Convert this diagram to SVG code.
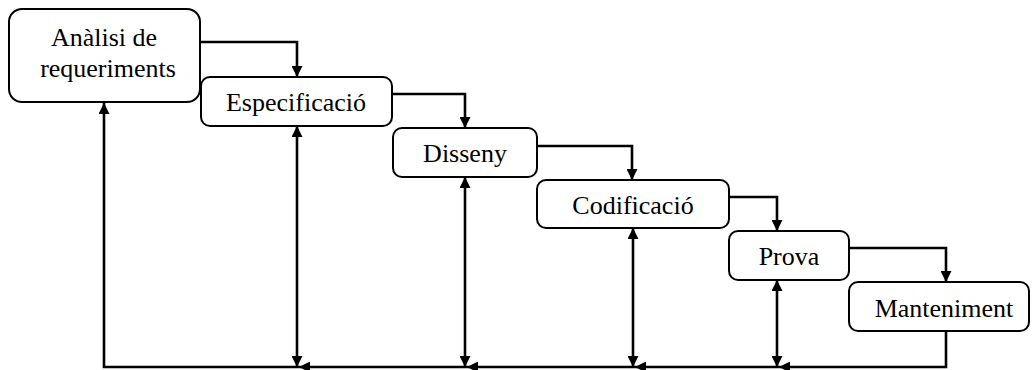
<svg xmlns="http://www.w3.org/2000/svg" width="1032" height="370" viewBox="0 0 1032 370">
  <style>
    .box { fill: #ffffff; stroke: #000000; stroke-width: 2; }
    .lbl { font-family: "Liberation Serif", "Times New Roman", serif; font-size: 26px; fill: #000000; text-anchor: middle; }
    .wire { fill: none; stroke: #000000; stroke-width: 2.6; }
  </style>
  <defs>
    <marker id="arrow" viewBox="0 0 10 10" refX="10" refY="5" markerWidth="11" markerHeight="11" markerUnits="userSpaceOnUse" orient="auto-start-reverse">
      <path d="M0,0 L10,5 L0,10 z" fill="#000000"/>
    </marker>
  </defs>

  <rect width="1032" height="370" fill="#ffffff"/>

  <!-- flow and feedback lines -->
  <g id="connectors">
    <!-- forward cascade -->
    <path class="wire" d="M200,42 H297 V77" marker-end="url(#arrow)"/>
    <path class="wire" d="M392,94 H465 V128" marker-end="url(#arrow)"/>
    <path class="wire" d="M537,146 H632 V180" marker-end="url(#arrow)"/>
    <path class="wire" d="M729,197 H777 V231" marker-end="url(#arrow)"/>
    <path class="wire" d="M849,248 H946 V282" marker-end="url(#arrow)"/>

    <!-- return path along the bottom -->
    <path class="wire" d="M946,331 V367 H779" marker-end="url(#arrow)"/>
    <path class="wire" d="M779,367 H635" marker-end="url(#arrow)"/>
    <path class="wire" d="M635,367 H467" marker-end="url(#arrow)"/>
    <path class="wire" d="M467,367 H299" marker-end="url(#arrow)"/>
    <path class="wire" d="M299,367 H104 V103" marker-end="url(#arrow)"/>

    <!-- two-way links between each stage and the return path -->
    <line class="wire" x1="297" y1="126" x2="297" y2="367" marker-start="url(#arrow)" marker-end="url(#arrow)"/>
    <line class="wire" x1="465" y1="177" x2="465" y2="367" marker-start="url(#arrow)" marker-end="url(#arrow)"/>
    <line class="wire" x1="633" y1="228" x2="633" y2="367" marker-start="url(#arrow)" marker-end="url(#arrow)"/>
    <line class="wire" x1="777" y1="280" x2="777" y2="367" marker-start="url(#arrow)" marker-end="url(#arrow)"/>
  </g>

  <g id="analisi">
    <rect class="box" x="9" y="9" width="191" height="93" rx="13" ry="13"/>
    <text class="lbl" x="104" y="46">Anàlisi de</text>
    <text class="lbl" x="108" y="77">requeriments</text>
  </g>

  <g id="especificacio">
    <rect class="box" x="201" y="77" width="191" height="49" rx="9" ry="9"/>
    <text class="lbl" x="296" y="111">Especificació</text>
  </g>

  <g id="disseny">
    <rect class="box" x="393" y="128" width="144" height="49" rx="9" ry="9"/>
    <text class="lbl" x="465" y="162">Disseny</text>
  </g>

  <g id="codificacio">
    <rect class="box" x="537" y="180" width="192" height="48" rx="9" ry="9"/>
    <text class="lbl" x="633" y="214">Codificació</text>
  </g>

  <g id="prova">
    <rect class="box" x="729" y="231" width="120" height="49" rx="9" ry="9"/>
    <text class="lbl" x="789" y="265">Prova</text>
  </g>

  <g id="manteniment">
    <rect class="box" x="849" y="282" width="180" height="49" rx="9" ry="9"/>
    <text class="lbl" x="944" y="317">Manteniment</text>
  </g>
</svg>
